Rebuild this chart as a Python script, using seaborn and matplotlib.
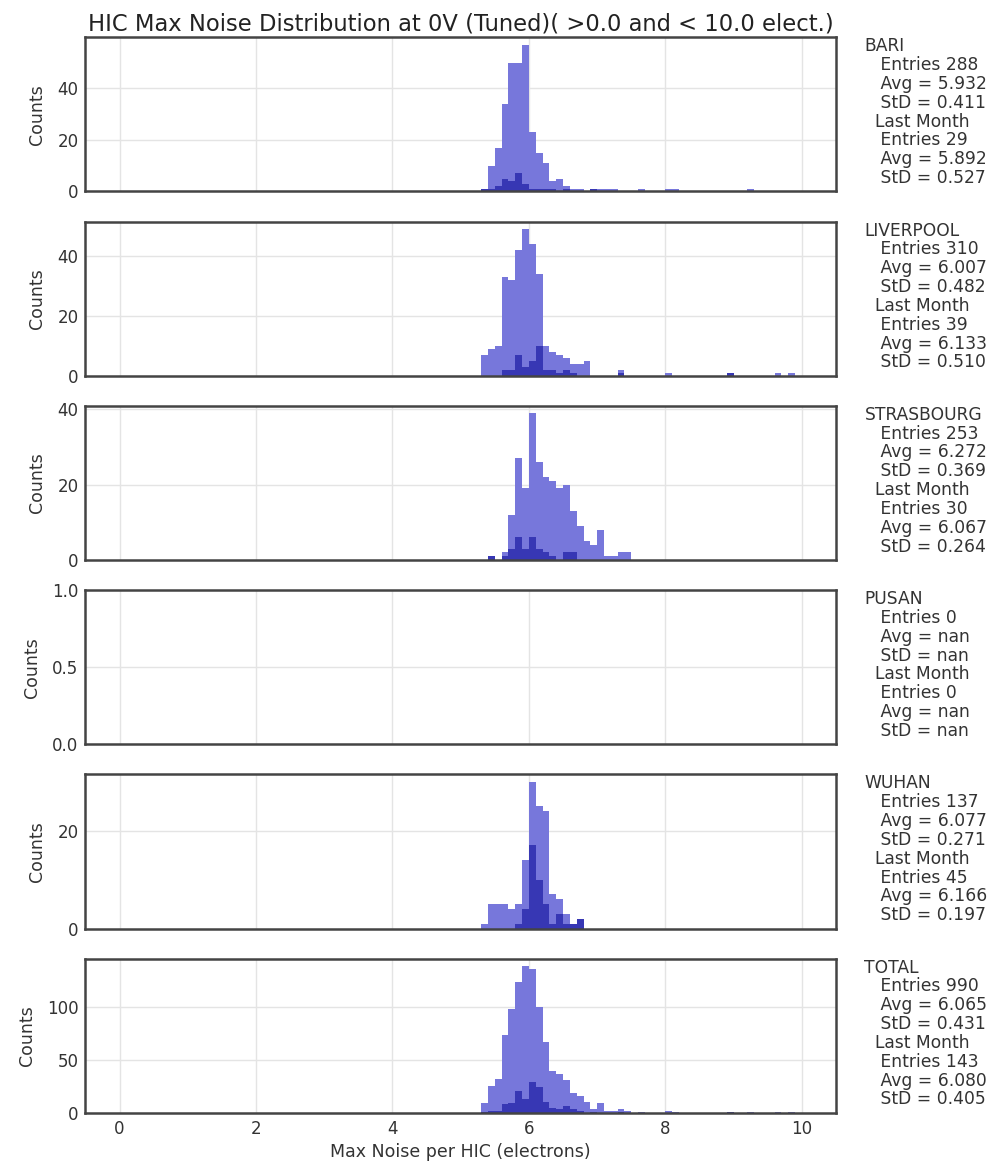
import numpy as np
import pandas as pd
import matplotlib
matplotlib.use('Agg')
import matplotlib.pyplot as plt
import seaborn as sns
from matplotlib.ticker import MaxNLocator

# bins de 0.1 electrones entre 0 y 10
edges = np.round(np.arange(0, 10.05, 0.1), 2)

sites = ['BARI', 'LIVERPOOL', 'STRASBOURG', 'PUSAN', 'WUHAN']

# conteos por bin, empezando en el bin indicado (todos / ultimo mes)
bari_start = 5.3
bari_all = [1, 10, 17, 34, 50, 50, 57, 23, 15, 11, 4, 5, 2, 1, 1, 0, 0, 1, 1, 1,
            0, 0, 0, 1, 0, 0, 0, 1, 1, 0, 0, 0, 0, 0, 0, 0, 0, 0, 0, 1]
bari_lm = [1, 1, 2, 5, 4, 7, 3, 1, 1, 1, 1, 0, 1, 0, 0, 0, 1]

liv_start = 5.3
liv_all = [7, 9, 10, 33, 32, 42, 49, 44, 34, 10, 8, 7, 6, 4, 4, 5, 0, 0, 0, 0,
           2, 0, 0, 0, 0, 0, 0, 1, 0, 0, 0, 0, 0, 0, 0, 0, 1, 0, 0, 0,
           0, 0, 0, 1, 0, 1]
liv_lm = [0, 0, 0, 2, 2, 7, 3, 5, 10, 2, 2, 1, 2, 1, 0, 0, 0, 0, 0, 0,
          1, 0, 0, 0, 0, 0, 0, 0, 0, 0, 0, 0, 0, 0, 0, 0, 1]

stra_start = 5.4
stra_all = [1, 0, 2, 12, 27, 19, 39, 26, 22, 21, 19, 20, 13, 9, 5, 4, 8, 1, 1, 2, 2]
stra_lm = [1, 0, 1, 3, 6, 3, 6, 3, 2, 1, 0, 2, 2]

pusan_start = 5.3
pusan_all = []
pusan_lm = []

wuhan_start = 5.3
wuhan_all = [1, 5, 5, 5, 4, 5, 14, 30, 25, 24, 7, 6, 3, 1, 2]
wuhan_lm = [0, 0, 0, 0, 0, 1, 4, 17, 10, 5, 1, 3, 1, 1, 2]

entries_all = [288, 310, 253, 0, 137, 990]
avg_all = ['5.932', '6.007', '6.272', 'nan', '6.077', '6.065']
std_all = ['0.411', '0.482', '0.369', 'nan', '0.271', '0.431']
entries_lm = [29, 39, 30, 0, 45, 143]
avg_lm = ['5.892', '6.133', '6.067', 'nan', '6.166', '6.080']
std_lm = ['0.527', '0.510', '0.264', 'nan', '0.197', '0.405']

starts = [bari_start, liv_start, stra_start, pusan_start, wuhan_start]
all_counts = [bari_all, liv_all, stra_all, pusan_all, wuhan_all]
lm_counts = [bari_lm, liv_lm, stra_lm, pusan_lm, wuhan_lm]


def a_vector(start, counts):
    v = np.zeros(len(edges) - 1)
    i0 = int(round(start * 10))
    v[i0:i0 + len(counts)] = counts
    return v


full_all = [a_vector(s, c) for s, c in zip(starts, all_counts)]
full_lm = [a_vector(s, c) for s, c in zip(starts, lm_counts)]
# TOTAL = suma de todos los sitios
full_all.append(np.sum(full_all, axis=0))
full_lm.append(np.sum(full_lm, axis=0))
labels = sites + ['TOTAL']

centers = np.round(edges[:-1] + 0.05, 3)

sns.set_style("whitegrid")
plt.rcParams['font.family'] = ['DejaVu Sans']

light = '#7777db'
dark = '#3737b4'

fig, axes = plt.subplots(6, 1, figsize=(9.94, 11.64), dpi=100, sharex=True)
fig.subplots_adjust(left=0.086, right=0.841, top=0.968, bottom=0.044, hspace=0.195)

for i, ax in enumerate(axes):
    if full_all[i].sum() > 0:
        df = pd.DataFrame({'noise': centers, 'todos': full_all[i], 'mes': full_lm[i]})
        sns.histplot(data=df, x='noise', weights='todos', binwidth=0.1, binrange=(0, 10),
                     ax=ax, color=light, alpha=1, linewidth=0)
        sns.histplot(data=df, x='noise', weights='mes', binwidth=0.1, binrange=(0, 10),
                     ax=ax, color=dark, alpha=1, linewidth=0)
    else:
        ax.set_ylim(0, 1)
    ax.set_xlim(-0.5, 10.5)
    ax.yaxis.set_major_locator(MaxNLocator(nbins=3, steps=[1, 2, 5, 10]))
    ax.set_ylabel('Counts', fontsize=12.5, color='#333333', labelpad=8)
    ax.set_xlabel('')
    ax.tick_params(labelsize=12, colors='#333333', length=0, pad=5)
    ax.grid(True, color='#e4e4e4', linestyle='-', linewidth=1)
    for sp in ax.spines.values():
        sp.set_color('#444444')
        sp.set_linewidth(1.8)
    txt = (f"{labels[i]}\n   Entries {entries_all[i]}\n   Avg = {avg_all[i]}\n"
           f"   StD = {std_all[i]}\n  Last Month\n   Entries {entries_lm[i]}\n"
           f"   Avg = {avg_lm[i]}\n   StD = {std_lm[i]}")
    ax.text(1.038, 1.0, txt, transform=ax.transAxes, ha='left', va='top',
            fontsize=12.3, color='#333333', linespacing=1.06)

axes[0].set_title('HIC Max Noise Distribution at 0V (Tuned)( >0.0 and < 10.0 elect.)',
                  fontsize=16.3, color='#222222', pad=5)
axes[-1].set_xlabel('Max Noise per HIC (electrons)', fontsize=12.5, color='#333333')
axes[-1].set_xticks([0, 2, 4, 6, 8, 10])

plt.savefig('out.png', dpi=100)
plt.close()
